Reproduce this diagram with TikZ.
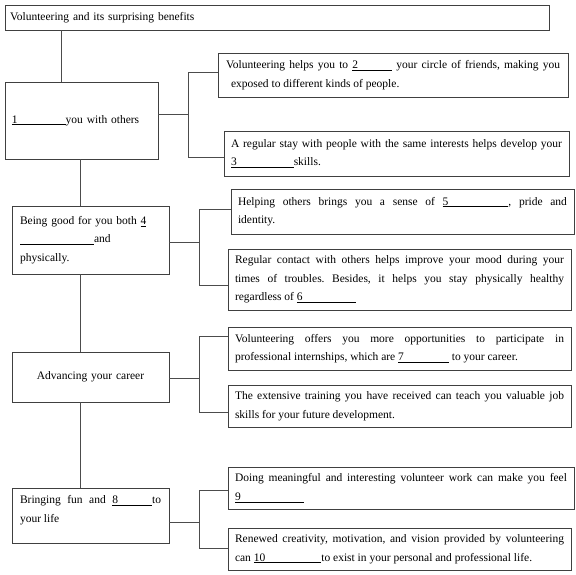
\documentclass[tikz,border=0pt]{standalone}
\usepackage{fontspec}
\setmainfont{Liberation Serif}
\frenchspacing
\newcommand\blank[2]{\underline{#1\hspace{#2}}}
\tikzset{
  box/.style={draw=black!75, line width=1pt, anchor=north west, outer sep=0pt,
    inner xsep=7pt, inner ysep=0pt, align=justify,
    font=\fontsize{11.5}{18.5}\selectfont\frenchspacing},
  conn/.style={draw=black!70, line width=0.9pt}
}
\begin{document}
\begin{tikzpicture}[x=1pt,y=-1pt]
\useasboundingbox (0,0) rectangle (576,574);
% title
\node[box, align=left, inner xsep=5pt, minimum width=544pt, minimum height=25pt, text width=534pt] (t) at (5,5) {Volunteering and its surprising benefits};
% group 1
\node[box, align=left, minimum width=153pt, minimum height=77pt, text width=139pt] (b1) at (5,82) {\blank{1}{48pt}you with others};
\node[box, minimum width=348pt, minimum height=44pt, text width=334pt, inner xsep=8pt] (b2a) at (218,53) {Volunteering helps you to \blank{2}{34pt} your circle of friends, making you\linebreak\hspace*{5pt}exposed to different kinds of people.};
\node[box, minimum width=345pt, minimum height=45pt, text width=331pt] (b2b) at (224,131) {A regular stay with people with the same interests helps develop your\linebreak\blank{3}{57pt}skills.};
% group 2
\node[box, align=left, minimum width=157pt, minimum height=68pt, text width=141pt, inner xsep=8pt] (b4) at (12,206) {Being good for you both \underline{4}\\\underline{\hspace{74pt}}and\\physically.};
\node[box, minimum width=343pt, minimum height=45pt, text width=329pt] (b5) at (231,189) {Helping others brings you a sense of \blank{5}{60pt}, pride and\linebreak identity.};
\node[box, minimum width=343pt, minimum height=61pt, text width=329pt] (b6) at (228,249) {Regular contact with others helps improve your mood during your\linebreak times of troubles. Besides, it helps you stay physically healthy\linebreak regardless of \blank{6}{53pt}};
% group 3
\node[box, align=center, minimum width=157pt, minimum height=50pt, text width=141pt] (b7) at (12,352) {Advancing your career};
\node[box, minimum width=343pt, minimum height=43pt, text width=329pt] (b8) at (228,327) {Volunteering offers you more opportunities to participate in\linebreak professional internships, which are \blank{7}{45pt} to your career.};
\node[box, minimum width=343pt, minimum height=42pt, text width=329pt] (b9) at (228,385) {The extensive training you have received can teach you valuable job\linebreak skills for your future development.};
% group 4
\node[box, minimum width=157pt, minimum height=55pt, text width=141pt, inner xsep=8pt, text depth=32pt] (b10) at (12,488) {Bringing fun and \blank{8}{34pt}to\linebreak your life};
\node[box, minimum width=346pt, minimum height=42pt, text width=332pt] (b11) at (228,467) {Doing meaningful and interesting volunteer work can make you feel\linebreak\blank{9}{63pt}};
\node[box, minimum width=343pt, minimum height=42pt, text width=329pt] (b12) at (228,528) {Renewed creativity, motivation, and vision provided by volunteering\linebreak can \blank{10}{56pt}to exist in your personal and professional life.};
% vertical spine
\coordinate (v1) at (61,0);
\coordinate (v2) at (80,0);
\draw[conn] (v1 |- t.south) -- (v1 |- b1.north);
\draw[conn] (v2 |- b1.south) -- (v2 |- b4.north);
\draw[conn] (v2 |- b4.south) -- (v2 |- b7.north);
\draw[conn] (v2 |- b7.south) -- (v2 |- b10.north);
% branch 1
\coordinate (j1) at (188,114);
\coordinate (j1t) at (188,72);
\coordinate (j1b) at (188,157);
\draw[conn] (b1.east |- j1) -- (j1);
\draw[conn] (b2a.west |- j1t) -- (j1t) -- (j1b) -- (b2b.west |- j1b);
% branch 2
\coordinate (j2) at (199,242);
\coordinate (j2t) at (199,209);
\coordinate (j2b) at (199,285);
\draw[conn] (b4.east |- j2) -- (j2);
\draw[conn] (b5.west |- j2t) -- (j2t) -- (j2b) -- (b6.west |- j2b);
% branch 3
\coordinate (j3) at (199,378);
\coordinate (j3t) at (199,336);
\coordinate (j3b) at (199,412);
\draw[conn] (b7.east |- j3) -- (j3);
\draw[conn] (b8.west |- j3t) -- (j3t) -- (j3b) -- (b9.west |- j3b);
% branch 4
\coordinate (j4) at (199,522);
\coordinate (j4t) at (199,490);
\coordinate (j4b) at (199,548);
\draw[conn] (b10.east |- j4) -- (j4);
\draw[conn] (b11.west |- j4t) -- (j4t) -- (j4b) -- (b12.west |- j4b);
\end{tikzpicture}
\end{document}
